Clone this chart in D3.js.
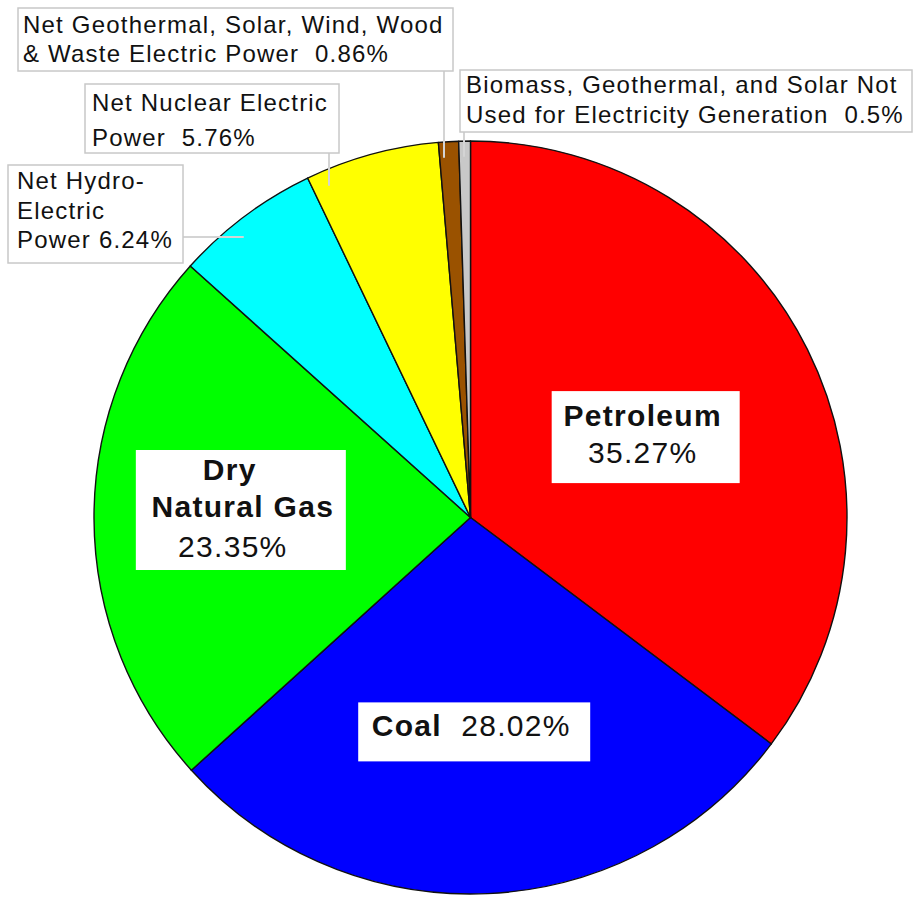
<!DOCTYPE html>
<html lang="en">
<head>
<meta charset="utf-8">
<title>Energy consumption by source</title>
<script src="https://d3js.org/d3.v7.min.js"></script>
<style>
	body { margin: 0; background: #fff; }
	svg text { font-family: "Liberation Sans", Arial, sans-serif; fill: #111; white-space: pre; }
</style>
</head>
<body>
<svg id="chart" width="917" height="898"></svg>
<script>
	// data
	var categories = ["Petroleum", "Coal", "Dry Natural Gas", "Net Hydro-Electric Power",
		"Net Nuclear Electric Power", "Net Geothermal, Solar, Wind, Wood & Waste Electric Power",
		"Biomass, Geothermal, and Solar Not Used for Electricity Generation"];
	var shares = [35.27, 28.02, 23.35, 6.24, 5.76, 0.86, 0.5];
	var colors = ["#ff0000", "#0000ff", "#00ff00", "#00ffff", "#ffff00", "#9a5200", "#c8c8c8"];

	function pct(i) { return shares[i] + "%"; }

	// labels inside the big slices: [slice, radius fraction, dx, dy, box w, box h, lines]
	var innerLabels = [
		[0, 0.52, 0, 7, 188, 92, [["Petroleum", -3, -11, true], [pct(0), -3, 26, false]]],
		[1, 0.57, -6, 0, 232, 59, [["Coal  " + pct(1), -3, 4, "mix"]]],
		[2, 0.61, 0, -8, 210, 120, [["Dry", -11, -30, true], ["Natural Gas", 2, 7, true], [pct(2), -8, 47, false]]]
	];

	// callouts for the thin slices: [slice, box x, y, w, h, text x, baselines, lines, leader]
	var callouts = [
		[5, 18, 8, 435, 63, 23, [33, 62], ["Net Geothermal, Solar, Wind, Wood", "& Waste Electric Power  " + pct(5)], ["v", 444]],
		[4, 85, 84, 254, 69, 92, [111, 146], ["Net Nuclear Electric", "Power  " + pct(4)], ["v", 329]],
		[3, 8, 165, 175, 98, 17, [189, 219, 248], ["Net Hydro-", "Electric", "Power " + pct(3)], ["h", 237]],
		[6, 460, 70, 452, 62, 466, [93, 123], ["Biomass, Geothermal, and Solar Not", "Used for Electricity Generation  " + pct(6)], ["v", 464]]
	];

	var svg = d3.select("#chart");
	var cx = 470.5, cy = 517.5, radius = 376.5;

	var pie = d3.pie().sort(null).value(function(d) { return d; });
	var arcs = pie(shares);
	var arc = d3.arc().innerRadius(0).outerRadius(radius);

	var g = svg.append("g").attr("transform", "translate(" + cx + "," + cy + ")");

	g.selectAll("path.slice")
		.data(arcs)
		.enter().append("path")
		.attr("class", "slice")
		.attr("d", arc)
		.attr("fill", function(d, i) { return colors[i]; })
		.attr("stroke", "#111")
		.attr("stroke-width", 1.4)
		.attr("stroke-linejoin", "round")
		.append("title").text(function(d, i) { return categories[i] + " " + pct(i); });

	// leader lines end a bit inside the rim of the pie
	var leadR = radius * 0.958;
	callouts.forEach(function(c) {
		var lead = c[8], x1, y1, x2, y2;
		if (lead[0] == "v") {
			x1 = x2 = lead[1];
			y1 = c[2] + c[4];
			var dx = lead[1] - cx;
			y2 = cy - Math.sqrt(leadR * leadR - dx * dx);
		} else {
			y1 = y2 = lead[1];
			x1 = c[1] + c[3];
			var dy = lead[1] - cy;
			x2 = cx - Math.sqrt(leadR * leadR - dy * dy);
		}
		svg.append("line")
			.attr("x1", x1).attr("y1", y1).attr("x2", x2).attr("y2", y2)
			.attr("stroke", "#d4d4d4").attr("stroke-width", 2);
	});

	callouts.forEach(function(c) {
		svg.append("rect")
			.attr("x", c[1]).attr("y", c[2]).attr("width", c[3]).attr("height", c[4])
			.attr("fill", "#fff").attr("stroke", "#c8c8c8").attr("stroke-width", 1.5);
		var t = svg.append("text")
			.attr("xml:space", "preserve")
			.style("font-size", "24px")
			.style("letter-spacing", "1.2px");
		c[7].forEach(function(line, j) {
			t.append("tspan").attr("x", c[5]).attr("y", c[6][j]).text(line);
		});
	});

	innerLabels.forEach(function(l) {
		var a = arcs[l[0]];
		var mid = (a.startAngle + a.endAngle) / 2;
		var px = cx + Math.sin(mid) * radius * l[1] + l[2];
		var py = cy - Math.cos(mid) * radius * l[1] + l[3];
		svg.append("rect")
			.attr("x", px - l[4] / 2).attr("y", py - l[5] / 2)
			.attr("width", l[4]).attr("height", l[5])
			.attr("fill", "#fff");
		l[6].forEach(function(line) {
			var t = svg.append("text")
				.attr("xml:space", "preserve")
				.attr("x", px + line[1]).attr("y", py + line[2])
				.attr("text-anchor", "middle")
				.style("font-size", "30px")
				.style("letter-spacing", "1.3px");
			if (line[3] === "mix") {
				var parts = line[0].split("  ");
				t.append("tspan").style("font-weight", "bold").text(parts[0] + "  ");
				t.append("tspan").text(parts[1]);
			} else {
				t.style("font-weight", line[3] ? "bold" : "normal").text(line[0]);
			}
		});
	});
</script>
</body>
</html>
